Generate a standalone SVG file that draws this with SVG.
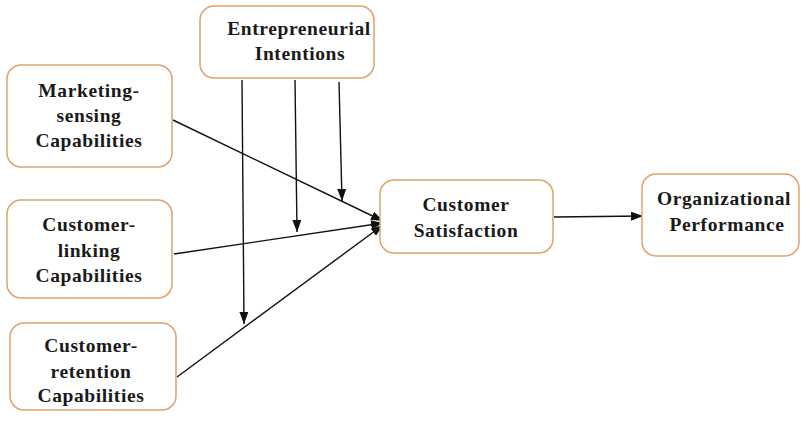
<svg xmlns="http://www.w3.org/2000/svg" width="801" height="425" viewBox="0 0 801 425">
<style>
.box{fill:#ffffff;stroke:#dca36f;stroke-width:1.5}
.t{font-family:"Liberation Serif","Times New Roman",serif;font-weight:bold;font-size:19.5px;letter-spacing:0.6px;fill:#1a1a1a;text-anchor:middle}
.c{stroke:#111;stroke-width:1.4;fill:none;marker-end:url(#ah)}
</style>
<defs>
<marker id="ah" viewBox="0 0 12 9" refX="12" refY="4.5" markerWidth="12" markerHeight="9" markerUnits="userSpaceOnUse" orient="auto">
<path d="M0,0 L12,4.5 L0,9 Z" fill="#111"/>
</marker>
</defs>
<rect width="801" height="425" fill="#ffffff"/>
<g id="connectors">
<line class="c" x1="173" y1="120" x2="383" y2="221"/>
<line class="c" x1="174" y1="254" x2="383" y2="223"/>
<line class="c" x1="177" y1="377" x2="383" y2="225"/>
<line class="c" x1="242" y1="80" x2="244" y2="324"/>
<line class="c" x1="295" y1="80" x2="297" y2="232"/>
<line class="c" x1="339" y1="82" x2="342" y2="201"/>
<line class="c" x1="554" y1="217" x2="643" y2="216"/>
</g>
<g id="entrepreneurial">
<rect class="box" x="200" y="6" width="174" height="72" rx="14"/>
<text class="t" x="299" y="35">Entrepreneurial</text>
<text class="t" x="300" y="60">Intentions</text>
</g>
<g id="marketing">
<rect class="box" x="7" y="65" width="165" height="102" rx="14"/>
<text class="t" x="89" y="97">Marketing-</text>
<text class="t" x="89" y="122">sensing</text>
<text class="t" x="89" y="147">Capabilities</text>
</g>
<g id="linking">
<rect class="box" x="7" y="200" width="165" height="98" rx="14"/>
<text class="t" x="89" y="231">Customer-</text>
<text class="t" x="89" y="257">linking</text>
<text class="t" x="89" y="282">Capabilities</text>
</g>
<g id="retention">
<rect class="box" x="10" y="323" width="166" height="87" rx="14"/>
<text class="t" x="91" y="352">Customer-</text>
<text class="t" x="91" y="378">retention</text>
<text class="t" x="91" y="402">Capabilities</text>
</g>
<g id="satisfaction">
<rect class="box" x="380" y="180" width="173" height="73" rx="14"/>
<text class="t" x="466" y="211">Customer</text>
<text class="t" x="466" y="237">Satisfaction</text>
</g>
<g id="performance">
<rect class="box" x="642" y="174" width="157" height="82" rx="14"/>
<text class="t" x="724" y="205">Organizational</text>
<text class="t" x="727" y="231">Performance</text>
</g>
</svg>
